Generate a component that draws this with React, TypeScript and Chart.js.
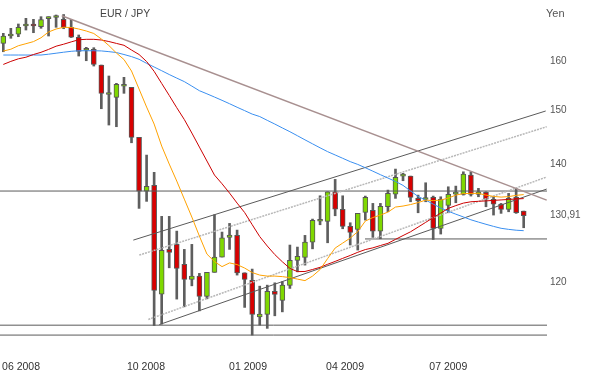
import React, { useEffect, useRef } from 'react';
import { Chart, registerables } from 'chart.js';

Chart.register(...registerables);

// ---------- data (weekly EUR/JPY candles, week index 0 = late May 2008) ----------
const OPEN = [
  163.72, 165.28, 165.65, 167.45, 167.55, 167.29, 169.05, 169.30, 168.90, 167.16,
  165.01, 162.25, 162.45, 159.17, 153.20, 152.63, 154.85, 154.63, 144.91, 135.14,
  136.15, 118.22, 125.29, 126.11, 122.87, 120.50, 121.02, 117.87, 121.61, 124.05,
  127.26, 127.59, 121.54, 120.34, 114.79, 115.14, 118.64, 117.26, 119.56, 123.51,
  124.00, 126.48, 129.95, 129.93, 135.02, 131.97, 129.09, 128.59, 131.45, 131.80,
  128.30, 132.42, 134.62, 137.80, 137.80, 133.87, 133.68, 134.04, 128.76, 132.66,
  134.60, 134.56, 137.98, 134.56, 134.91, 133.69, 132.83, 131.97, 134.04, 131.68,
];
const HIGH = [
  165.86, 166.94, 167.88, 169.12, 168.90, 169.48, 169.48, 169.85, 169.96, 168.90,
  165.50, 162.87, 162.79, 159.17, 156.92, 155.43, 156.65, 154.63, 144.91, 141.61,
  138.47, 130.78, 130.78, 128.30, 125.29, 126.11, 121.45, 121.61, 131.05, 128.14,
  129.59, 128.47, 121.54, 122.13, 119.45, 119.61, 119.97, 120.13, 126.00, 125.67,
  127.59, 130.32, 134.32, 135.02, 137.21, 134.32, 129.70, 131.29, 134.27, 133.00,
  133.00, 135.32, 139.06, 138.29, 137.80, 134.44, 136.61, 134.27, 134.15, 135.90,
  136.02, 138.57, 138.57, 135.62, 135.02, 134.15, 133.00, 134.74, 135.62, 131.68,
];
const LOW = [
  161.94, 164.79, 165.13, 166.57, 165.99, 166.94, 165.28, 167.16, 166.85, 164.95,
  161.04, 160.06, 158.96, 150.39, 147.24, 146.92, 153.43, 143.89, 132.14, 133.35,
  113.50, 113.71, 122.33, 117.46, 116.29, 119.50, 115.68, 117.50, 121.61, 124.05,
  125.29, 121.18, 116.20, 112.10, 113.56, 113.08, 114.94, 115.53, 119.10, 121.70,
  122.76, 125.38, 129.36, 126.37, 130.88, 128.69, 126.00, 125.18, 130.15, 127.26,
  127.03, 131.56, 133.87, 136.97, 133.28, 131.39, 133.28, 126.92, 127.81, 131.39,
  133.11, 134.44, 134.27, 134.15, 132.42, 131.00, 131.29, 131.56, 131.29, 128.86,
];
const CLOSE = [
  165.28, 165.71, 167.16, 167.55, 167.45, 168.82, 169.15, 169.38, 167.16, 165.01,
  162.03, 162.35, 159.32, 153.43, 153.38, 155.23, 155.05, 144.91, 135.14, 135.97,
  118.79, 125.13, 124.81, 122.24, 120.50, 121.02, 117.87, 121.61, 124.05, 127.19,
  127.64, 121.54, 120.50, 115.14, 115.19, 118.64, 118.18, 119.61, 123.51, 124.16,
  126.48, 130.10, 130.10, 135.02, 132.02, 129.09, 128.09, 131.29, 134.04, 128.30,
  132.49, 134.74, 137.57, 137.92, 134.04, 133.45, 133.80, 128.76, 133.69, 134.56,
  134.72, 138.16, 134.56, 135.02, 133.74, 132.88, 131.97, 133.87, 131.39, 130.91,
];

// moving averages (fast / medium / slow)
const MA_FAST = [
  162.09, 162.47, 163.21, 163.64, 164.08, 164.90, 166.14, 166.79, 167.16, 167.12,
  166.79, 166.36, 165.82, 164.64, 163.25, 161.67, 160.31, 157.94, 154.29, 150.72,
  147.43, 143.28, 139.97, 136.91, 133.74, 130.66, 127.47, 124.53, 123.32, 122.52,
  123.11, 122.84, 122.29, 121.58, 121.18, 121.02, 121.02, 120.94, 120.78, 120.55,
  120.31, 121.02, 122.05, 123.80, 125.51, 126.32, 127.14, 128.22, 129.98, 130.58,
  131.00, 131.51, 132.37, 132.54, 132.80, 133.14, 133.57, 133.48, 133.57, 133.92,
  134.44, 134.70, 134.74, 134.74, 134.44, 134.21, 134.09, 134.18, 134.39, 134.53,
];
const MA_MID = [
  159.29, 159.92, 160.46, 160.79, 161.36, 161.82, 162.43, 163.11, 163.53, 164.02,
  164.48, 164.57, 164.57, 164.42, 164.10, 163.70, 163.30, 162.30, 161.36, 159.90,
  157.87, 155.41, 153.01, 150.59, 148.30, 145.72, 143.09, 140.52, 137.98, 136.43,
  134.79, 133.05, 131.43, 129.38, 127.39, 125.84, 124.45, 123.29, 122.24, 121.73,
  121.75, 122.06, 122.41, 122.89, 123.35, 123.84, 124.31, 124.82, 125.26, 125.54,
  125.92, 126.28, 126.93, 127.56, 128.19, 128.97, 129.76, 130.56, 131.34, 132.14,
  132.62, 133.05, 133.28, 133.36, 133.43, 133.52, 133.60, 133.69, 133.76, 133.83,
];
const MA_SLOW = [
  161.25, 161.25, 161.25, 161.25, 161.25, 161.25, 161.42, 161.63, 161.84, 162.03,
  162.15, 162.15, 162.15, 162.11, 161.96, 161.77, 161.36, 160.92, 160.36, 159.52,
  158.76, 158.00, 157.22, 156.49, 155.78, 154.87, 153.95, 153.33, 152.69, 152.04,
  151.37, 150.68, 150.02, 149.35, 148.87, 148.14, 147.43, 146.69, 145.97, 145.21,
  144.44, 143.69, 142.95, 142.24, 141.63, 141.02, 140.41, 139.90, 139.30, 138.68,
  138.05, 137.45, 136.84, 136.15, 135.16, 134.20, 133.57, 132.88, 132.21, 131.65,
  131.15, 130.68, 130.20, 129.81, 129.44, 129.09, 128.77, 128.59, 128.45, 128.37,
];

// trend lines: [startWeek, startValue, endWeek, endValue]
const DOWN_TREND = [7.75, 169.7, 72.05, 133.57];
const CHANNEL_UPPER = [17.24, 126.81, 71.92, 149.95];
const CHANNEL_UPPER_MID = [18.03, 124.37, 72.05, 146.92];
const CHANNEL_LOWER_MID = [19.23, 114.4, 72.05, 137.63];
const CHANNEL_LOWER = [20.68, 113.63, 72.05, 135.5];
// horizontal levels: [fromWeek (null = left edge), value]
const LEVELS: [number | null, number][] = [
  [null, 135.15],
  [null, 113.55],
  [null, 112.1],
  [47.96, 127.0],
];

const X_TICK_WEEKS = [2.35, 18.92, 32.45, 45.31, 59.0];
const X_TICK_LABELS = ['06 2008', '10 2008', '01 2009', '04 2009', '07 2009'];
const Y_TICK_VALUES = [120, 130.91, 140, 150, 160];
const Y_TICK_LABELS = ['120', '130,91', '140', '150', '160'];
const TITLE = 'EUR / JPY';
const UNIT = 'Yen';

// ---------- scale / style settings ----------
const X_MIN = -0.4376;
const X_MAX = 72.09;
const Y_MIN = 109.95;
const Y_MAX = 173.19;
const GREEN = '#7fd800';
const RED = '#d80000';
const CANDLE_EDGE = '#575757';
const FONT = '"Liberation Sans", Arial, sans-serif';

const seg = (a: number[]) => [
  { x: a[0], y: a[1] },
  { x: a[2], y: a[3] },
];

const lineDs = (label: string, data: any[], color: string, width: number, order: number, dash: number[] = []) => ({
  type: 'line' as const,
  label,
  data,
  borderColor: color,
  borderWidth: width,
  borderDash: dash,
  pointRadius: 0,
  tension: 0,
  fill: false,
  order,
});

const textPlugin = {
  id: 'cornerTexts',
  afterDraw(chart: any) {
    const { ctx } = chart;
    ctx.save();
    ctx.textAlign = 'left';
    ctx.textBaseline = 'middle';
    ctx.fillStyle = '#444';
    ctx.font = `10.5px ${FONT}`;
    ctx.fillText(TITLE, 100, 14);
    ctx.fillStyle = '#555';
    ctx.font = `11px ${FONT}`;
    ctx.fillText(UNIT, chart.scales.y.left - 1, 14);
    ctx.restore();
  },
};

export default function App() {
  const ref = useRef<HTMLCanvasElement | null>(null);

  useEffect(() => {
    if (!ref.current) return;
    const idx = CLOSE.map((_, i) => i);
    const wickData = idx.map((i) => ({ x: i, y: [LOW[i], HIGH[i]] }));
    const bodyData = idx.map((i) => ({ x: i, y: [OPEN[i], CLOSE[i]] }));
    const bodyColors = idx.map((i) => (CLOSE[i] >= OPEN[i] ? GREEN : RED));

    const datasets: any[] = [
      lineDs('MA fast', MA_FAST.map((v, i) => ({ x: i, y: v })), '#ffa200', 1, 1),
      lineDs('MA mid', MA_MID.map((v, i) => ({ x: i, y: v })), '#cc0000', 1, 2),
      lineDs('MA slow', MA_SLOW.map((v, i) => ({ x: i, y: v })), '#3a8ff0', 1, 3),
      lineDs('down trend', seg(DOWN_TREND), '#a89090', 1.5, 4),
      lineDs('channel upper', seg(CHANNEL_UPPER), '#5a5a5a', 1, 5),
      lineDs('channel upper mid', seg(CHANNEL_UPPER_MID), '#b8b8b8', 1.5, 6, [2, 1]),
      lineDs('channel lower mid', seg(CHANNEL_LOWER_MID), '#b8b8b8', 1.5, 7, [2, 1]),
      lineDs('channel lower', seg(CHANNEL_LOWER), '#5a5a5a', 1, 8),
      ...LEVELS.map((l, k) =>
        lineDs('level ' + k, [
          { x: l[0] === null ? X_MIN : l[0], y: l[1] },
          { x: X_MAX, y: l[1] },
        ], '#5a5a5a', 1, 9)
      ),
      {
        type: 'bar',
        label: 'wicks',
        data: wickData,
        backgroundColor: '#5e5e5e',
        borderWidth: 0,
        barThickness: 2,
        grouped: false,
        order: 21,
      },
      {
        type: 'bar',
        label: 'bodies',
        data: bodyData,
        backgroundColor: bodyColors,
        borderColor: CANDLE_EDGE,
        borderWidth: 1,
        borderSkipped: false,
        barThickness: 5,
        minBarLength: 2,
        grouped: false,
        order: 20,
      },
    ];

    const chart = new Chart(ref.current, {
      type: 'line',
      data: { datasets },
      options: {
        animation: false,
        responsive: false,
        devicePixelRatio: 1,
        layout: { padding: 0 },
        plugins: { legend: { display: false }, tooltip: { enabled: false } },
        events: [],
        scales: {
          x: {
            type: 'linear',
            min: X_MIN,
            max: X_MAX,
            bounds: 'data',
            offset: false,
            grid: { display: false, drawTicks: false },
            border: { display: false },
            afterBuildTicks: (s: any) => {
              s.ticks = X_TICK_WEEKS.map((v) => ({ value: v }));
            },
            afterFit: (s: any) => {
              s.height = 25;
              s.paddingLeft = 0;
              s.paddingRight = 0;
            },
            ticks: {
              autoSkip: false,
              maxRotation: 0,
              padding: 11,
              color: '#333',
              font: { family: FONT, size: 10.5 },
              callback: (_v: any, i: number) => X_TICK_LABELS[i],
            },
          },
          y: {
            type: 'logarithmic',
            position: 'right',
            min: Y_MIN,
            max: Y_MAX,
            bounds: 'data',
            grid: { display: false, drawTicks: false },
            border: { display: false },
            afterBuildTicks: (s: any) => {
              s.ticks = Y_TICK_VALUES.map((v) => ({ value: v }));
            },
            afterFit: (s: any) => {
              s.width = 45;
              s.paddingTop = 0;
              s.paddingBottom = 0;
            },
            ticks: {
              autoSkip: false,
              padding: 3,
              color: '#555',
              font: { family: FONT, size: 10 },
              callback: (_v: any, i: number) => Y_TICK_LABELS[i],
            },
          },
        },
      } as any,
      plugins: [textPlugin],
    });
    return () => chart.destroy();
  }, []);

  return (
    <div style={{ position: 'fixed', left: 0, top: 0, width: 592, height: 375, background: '#fff' }}>
      <canvas ref={ref} width={592} height={375} style={{ width: 592, height: 375, display: 'block' }} />
    </div>
  );
}
